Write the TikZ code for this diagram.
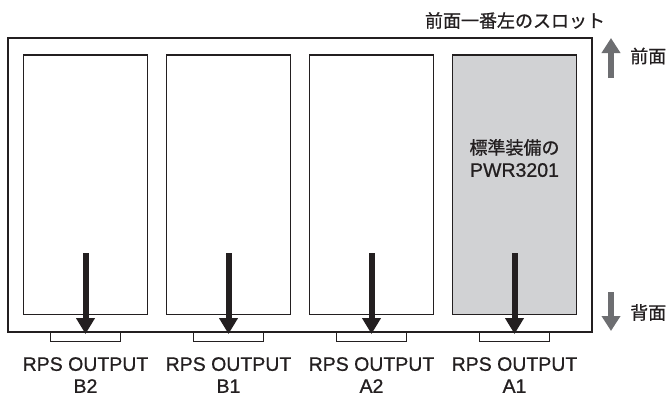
\documentclass[tikz,border=0pt]{standalone}
\usepackage{fontspec}
\setmainfont[FakeBold=0.8]{Liberation Sans}
\newfontfamily\jp[FakeBold=0.9]{Noto Sans CJK JP}
\usetikzlibrary{arrows.meta}
\definecolor{ink}{HTML}{231F20}
\definecolor{slotgrey}{HTML}{D1D2D4}
\definecolor{arrowgrey}{HTML}{6D6E71}
\begin{document}
\begin{tikzpicture}[x=1pt,y=-1pt,
  chassis/.style={draw=ink, line width=2pt, minimum width=584.3pt, minimum height=293.7pt, inner sep=0pt},
  slotbox/.style={draw=ink, line width=1.5pt, fill=white, minimum width=124pt, minimum height=259.3pt, inner sep=0pt},
  tabbox/.style={draw=ink, line width=1.2pt, fill=white, minimum width=70pt, minimum height=9.3pt, inner sep=0pt, anchor=north},
  outarrow/.style={draw=ink, line width=6pt, -{Triangle[length=16pt,width=18pt]}},
  dirarrow/.style={draw=arrowgrey, line width=6pt, -{Triangle[length=15pt,width=18pt]}},
  lbl/.style={text=ink, align=center, inner sep=0pt, font=\fontsize{19.5}{22}\selectfont},
  jplbl/.style={text=ink, inner sep=0pt, font=\jp\fontsize{18}{22}\selectfont}]
\useasboundingbox (0,0) rectangle (669,397);
% chassis
\node[chassis] (chassis) at (299.85,184.85) {};
% slots
\node[slotbox] (s1) at (85.5,184.65) {};
\node[slotbox] (s2) at (228.5,184.65) {};
\node[slotbox] (s3) at (371.5,184.65) {};
\node[slotbox, fill=slotgrey] (s4) at (514.5,184.65) {};
% connectors (tabs)
\node[tabbox] (t1) at (85.5,331.7) {};
\node[tabbox] (t2) at (228.5,331.7) {};
\node[tabbox] (t3) at (371.5,331.7) {};
\node[tabbox] (t4) at (514.5,331.7) {};
% arrow starts
\coordinate (a1) at (85.5,253);
\coordinate (a2) at (228.5,253);
\coordinate (a3) at (371.5,253);
\coordinate (a4) at (514.5,253);
\draw[outarrow] (a1) -- ([yshift=-2.3pt]t1.north);
\draw[outarrow] (a2) -- ([yshift=-2.3pt]t2.north);
\draw[outarrow] (a3) -- ([yshift=-2.3pt]t3.north);
\draw[outarrow] (a4) -- ([yshift=-2.3pt]t4.north);
% slot 4 text
\node[text=ink, align=center, inner sep=0pt, font=\fontsize{19.5}{22.5}\selectfont] (std) at (514.5,158) {{\jp\fontsize{18}{22.5}\selectfont 標準装備の}\\PWR3201};
% output labels
\node[lbl] (l1) at (85.5,375) {RPS OUTPUT\\B2};
\node[lbl] (l2) at (228.5,375) {RPS OUTPUT\\B1};
\node[lbl] (l3) at (371.5,375) {RPS OUTPUT\\A2};
\node[lbl] (l4) at (514.5,375) {RPS OUTPUT\\A1};
% top label
\node[jplbl] (top) at (515,20.5) {前面一番左のスロット};
% front / rear indicators
\coordinate (upS) at (611,78);
\coordinate (upE) at (611,38);
\coordinate (dnS) at (611,292);
\coordinate (dnE) at (611,331);
\draw[dirarrow] (upS) -- (upE);
\draw[dirarrow] (dnS) -- (dnE);
\node[jplbl, anchor=west] (front) at (630,56) {前面};
\node[jplbl, anchor=west] (rear) at (630,312.5) {背面};
\end{tikzpicture}
\end{document}
